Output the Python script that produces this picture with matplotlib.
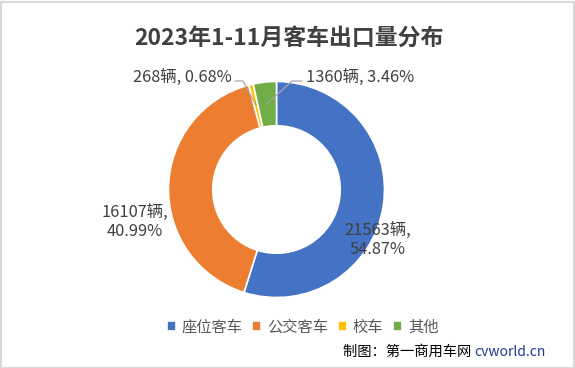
import numpy as np
import matplotlib
matplotlib.use("Agg")
import matplotlib.pyplot as plt
from matplotlib.patches import Rectangle

plt.rcParams['font.family'] = ['Noto Sans CJK SC', 'DejaVu Sans']

title = "2023年1-11月客车出口量分布"
categories = ["座位客车", "公交客车", "校车", "其他"]
values = [21563, 16107, 268, 1360]
colors = ["#4472C4", "#ED7D31", "#FFC000", "#70AD47"]
unit = "辆"
credit_cn = "制图：第一商用车网 "
credit_en = "cvworld.cn"

W, H = 575, 368
fig = plt.figure(figsize=(W / 100, H / 100), dpi=100)
ax = fig.add_axes([0, 0, 1, 1])

cx, cy, R = 276.5, H - 189.5, 108
width_frac = 0.41
wedges, _ = ax.pie(values, colors=colors, startangle=90, counterclock=False,
                   center=(cx, cy), radius=R,
                   wedgeprops=dict(width=R * width_frac, edgecolor="white", linewidth=1.2))
ax.set_xlim(0, W)
ax.set_ylim(0, H)
ax.set_aspect("equal")
ax.axis("off")

total = sum(values)
pcts = [v / total * 100 for v in values]
txtc = "#404040"
fs = 11.8

lab_pos = [
    (f"{values[0]}{unit},\n{pcts[0]:.2f}%", 378, 240, "center"),
    (f"{values[1]}{unit},\n{pcts[1]:.2f}%", 135, 222, "center"),
    (f"{values[2]}{unit}, {pcts[2]:.2f}%", 232, 77, "right"),
    (f"{values[3]}{unit}, {pcts[3]:.2f}%", 306, 77, "left"),
]
for t, x, y, ha in lab_pos:
    ax.text(x, H - y, t, ha=ha, va="center", fontsize=fs, color=txtc,
            linespacing=1.2)

def mid_point(w, rfrac=0.8):
    th = np.deg2rad((w.theta1 + w.theta2) / 2)
    return cx + R * rfrac * np.cos(th), cy + R * rfrac * np.sin(th)

lc = "#A6A6A6"
mx, my = mid_point(wedges[2])
ax.plot([235, 243, mx], [H - 81, H - 81, my], color=lc, lw=0.9)
mx, my = mid_point(wedges[3])
ax.plot([302, 292, mx], [H - 81, H - 81, my], color=lc, lw=0.9)

fig.text(289 / W, 1 - 38 / H, title, ha="center", va="center",
         fontsize=16.5, fontweight="bold", color="#404040")

leg = ax.legend(wedges, categories, loc="center", bbox_to_anchor=(302.5 / W, 1 - 327 / H),
                ncol=4, frameon=False, fontsize=11, handlelength=0.6, handleheight=0.6,
                handletextpad=0.4, columnspacing=0.6, labelcolor="#595959")

t1 = fig.text(546 / W, 1 - 352 / H, credit_en, ha="right", va="center",
              fontsize=10, color="#1F3A93")
fig.canvas.draw()
bb = t1.get_window_extent()
fig.text(bb.x0 / W, 1 - 352 / H, credit_cn, ha="right", va="center",
         fontsize=10.3, color="#000000")

fig.patches.append(Rectangle((0.5 / W, 0.5 / H), 1 - 2 / W, 1 - 2 / H,
                             transform=fig.transFigure, fill=False,
                             edgecolor="#D9D9D9", lw=1.5))

fig.savefig("out.png", dpi=100)
